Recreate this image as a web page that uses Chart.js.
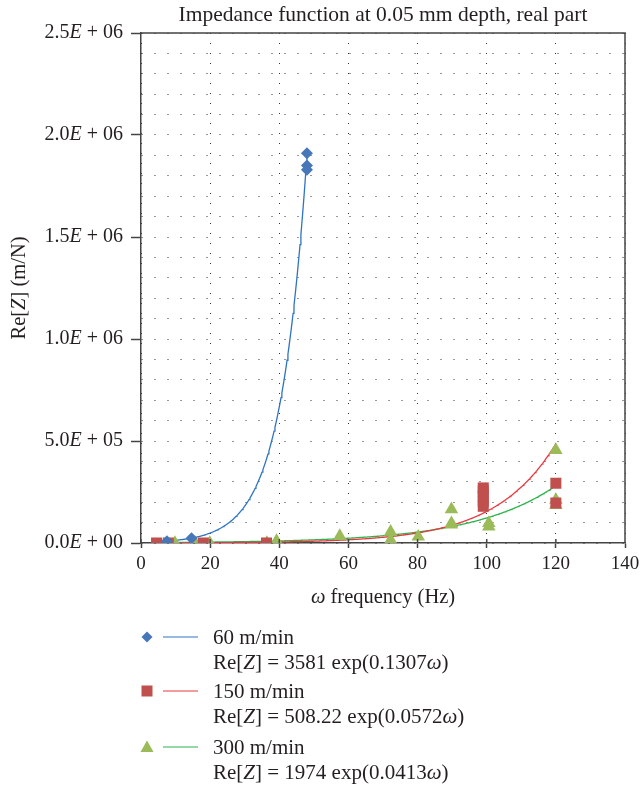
<!DOCTYPE html>
<html lang="en">
<head>
<meta charset="UTF-8">
<title>Impedance function, real part</title>
<script src="https://cdn.jsdelivr.net/npm/chart.js"></script>
<style>
  body { margin: 0; background: #fff; }
  #grafico { display: block; }
</style>
</head>
<body>
<canvas id="grafico" width="641" height="793"></canvas>
<script>
// measured points, omega (Hz) and Re[Z] (m/N)
var w60 = [7.5, 14.6, 48, 48, 48];
var z60 = [8000, 23000, 1910000, 1850000, 1830000];

var w150 = [4.5, 7.9, 18, 36.3, 99, 99, 99, 99, 99, 120, 120];
var z150 = [0, 0, 0, 0, 270000, 255000, 230000, 205000, 180000, 293000, 196000];

var w300 = [9.8, 15.6, 19.9, 36.4, 39.2, 57.5, 72.2, 72.2, 80.2, 89.8, 89.8, 89.8, 100.6, 100.6, 120, 120, 120];
var z300 = [0, 0, 0, 0, 10000, 34000, 55000, 15000, 31000, 165000, 97000, 90000, 97000, 80000, 456000, 211000, 186000];

// exponential fits Re[Z] = a exp(b w) as printed in the legend
var series = ['60 m/min', '150 m/min', '300 m/min'];
var fitA = [3581, 508.22, 1974];
var fitB = [0.1307, 0.0572, 0.0413];
var fitFrom = [7.5, 4.5, 9.8];
var fitTo = [48, 120, 120];

var yTicks = ['0.0|+ 00', '5.0|+ 05', '1.0|+ 06', '1.5|+ 06', '2.0|+ 06', '2.5|+ 06'];

var markerCol = ['#4677b8', '#c0504d', '#9bbb59'];
var lineCol = ['#2f74c0', '#e8383d', '#2fb24c'];
var shapes = ['rectRot', 'rect', 'triangle'];
var serif = '"Liberation Serif", "DejaVu Serif", serif';

function curva(i) {
    var pts = [];
    for (var w = fitFrom[i]; w <= fitTo[i] + 1e-9; w += 0.25) {
        pts.push({ x: w, y: fitA[i] * Math.exp(fitB[i] * w) });
    }
    return pts;
}

function pontos(ws, zs) {
    return ws.map(function (w, k) { return { x: w, y: zs[k] }; });
}

// text made of plain and italic pieces
function larguraRuns(ctx, runs, size) {
    var total = 0;
    runs.forEach(function (r) {
        ctx.font = (r[1] ? 'italic ' : '') + size + 'px ' + serif;
        total += ctx.measureText(r[0]).width;
    });
    return total;
}
function desenhaRuns(ctx, runs, x, y, size, align) {
    var total = larguraRuns(ctx, runs, size);
    var px = align === 'right' ? x - total : align === 'center' ? x - total / 2 : x;
    ctx.textBaseline = 'middle';
    ctx.textAlign = 'left';
    runs.forEach(function (r) {
        ctx.font = (r[1] ? 'italic ' : '') + size + 'px ' + serif;
        ctx.fillText(r[0], px, y);
        px += ctx.measureText(r[0]).width;
    });
}

function marcador(ctx, shape, x, y, cor) {
    ctx.fillStyle = cor;
    ctx.beginPath();
    if (shape === 'rectRot') {
        ctx.moveTo(x, y - 5.5); ctx.lineTo(x + 5.5, y); ctx.lineTo(x, y + 5.5); ctx.lineTo(x - 5.5, y);
    } else if (shape === 'rect') {
        ctx.rect(x - 5.5, y - 5.5, 11, 11);
    } else {
        ctx.moveTo(x, y - 6.5); ctx.lineTo(x + 6.5, y + 5); ctx.lineTo(x - 6.5, y + 5);
    }
    ctx.closePath();
    ctx.fill();
}

var textos = {
    id: 'textos',
    afterDraw: function (chart) {
        var ctx = chart.ctx;
        var area = chart.chartArea;
        var ys = chart.scales.y;
        var xs = chart.scales.x;
        ctx.save();

        // frame around the plot
        ctx.strokeStyle = '#444';
        ctx.lineWidth = 1.5;
        ctx.beginPath();
        ctx.moveTo(area.left, area.top); ctx.lineTo(area.right, area.top); ctx.lineTo(area.right, area.bottom);
        // x tick marks cross the axis line
        xs.ticks.forEach(function (t) {
            var px = xs.getPixelForValue(t.value);
            ctx.moveTo(px, area.bottom - 4); ctx.lineTo(px, area.bottom);
        });
        ctx.stroke();

        ctx.fillStyle = '#231f20';
        ctx.textBaseline = 'middle';
        ctx.textAlign = 'center';
        ctx.font = '21.5px ' + serif;
        ctx.fillText('Impedance function at 0.05 mm depth, real part', (area.left + area.right) / 2, 15);

        // y tick labels with italic E
        yTicks.forEach(function (t, k) {
            var p = t.split('|');
            desenhaRuns(ctx, [[p[0], false], ['E', true], [' ' + p[1], false]], 123, ys.getPixelForValue(k * 500000), 20, 'right');
        });

        // axis titles
        desenhaRuns(ctx, [['ω', true], [' frequency (Hz)', false]], (area.left + area.right) / 2, 598, 20.5, 'center');
        ctx.save();
        ctx.translate(20, (area.top + area.bottom) / 2);
        ctx.rotate(-Math.PI / 2);
        desenhaRuns(ctx, [['Re[', false], ['Z', true], ['] (m/N)', false]], 0, 0, 20.5, 'center');
        ctx.restore();

        // legend
        var linhas = [637, 691, 747];
        series.forEach(function (nome, i) {
            var y = linhas[i];
            marcador(ctx, shapes[i], 147, y, markerCol[i]);
            ctx.strokeStyle = lineCol[i];
            ctx.lineWidth = 1.2;
            ctx.beginPath(); ctx.moveTo(163, y); ctx.lineTo(198, y); ctx.stroke();
            ctx.fillStyle = '#231f20';
            desenhaRuns(ctx, [[nome, false]], 213, y + 1, 21, 'left');
            desenhaRuns(ctx, [['Re[', false], ['Z', true], ['] = ' + fitA[i] + ' exp(' + fitB[i], false], ['ω', true], [')', false]], 213, y + 26, 21, 'left');
        });
        ctx.restore();
    }
};

// markers first so they sit above the fitted curves
var datasets = [];
[[w60, z60], [w150, z150], [w300, z300]].forEach(function (s, i) {
    datasets.push({
        label: series[i],
        data: pontos(s[0], s[1]),
        pointStyle: shapes[i],
        pointRadius: i === 0 ? 6 : 7.8,
        backgroundColor: markerCol[i],
        borderColor: markerCol[i],
        borderWidth: 0
    });
});
for (var i = 0; i < 3; i++) {
    datasets.push({
        label: series[i] + ' fit',
        data: curva(i),
        showLine: true,
        borderColor: lineCol[i],
        borderWidth: 1.3,
        pointRadius: 0,
        fill: false
    });
}

new Chart(document.getElementById('grafico'), {
    type: 'scatter',
    data: { datasets: datasets },
    options: {
        responsive: false,
        animation: false,
        layout: { padding: { left: 0, right: 16, top: 33, bottom: 220 } },
        plugins: { legend: { display: false }, tooltip: { enabled: false } },
        scales: {
            x: {
                min: 0, max: 140,
                // the last label may run past the canvas edge
                afterFit: function (s) { s.height = 30; s.paddingLeft = 0; s.paddingRight = 0; },
                ticks: {
                    stepSize: 20,
                    padding: 5,
                    color: '#231f20',
                    font: { family: serif, size: 19 }
                },
                grid: {
                    color: '#333',
                    lineWidth: 1,
                    tickLength: 5,
                    tickColor: '#444',
                    tickWidth: 1.5
                },
                border: { color: '#444', width: 1.5, dash: [1, 9] }
            },
            y: {
                min: 0, max: 2500000,
                afterFit: function (s) { s.width = 141; s.paddingTop = 0; s.paddingBottom = 0; },
                ticks: { stepSize: 100000, display: false },
                grid: {
                    color: '#333',
                    lineWidth: 1,
                    tickLength: 10,
                    tickWidth: 1.5,
                    tickColor: function (c) {
                        return c.tick && c.tick.value % 500000 === 0 ? '#444' : 'rgba(0,0,0,0)';
                    }
                },
                border: { color: '#444', width: 1.5, dash: [1, 12] }
            }
        }
    },
    plugins: [textos]
});
</script>
</body>
</html>
